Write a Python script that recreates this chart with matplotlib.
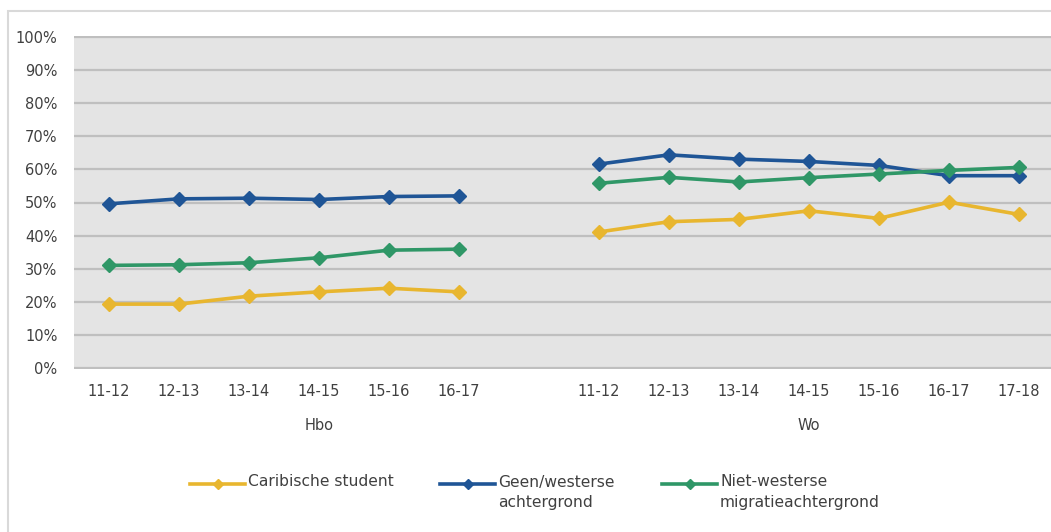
import matplotlib
matplotlib.use("Agg")
import matplotlib.pyplot as plt
from matplotlib.lines import Line2D
from matplotlib.patches import Rectangle
from matplotlib.ticker import PercentFormatter

# data
groups = ["Hbo", "Wo"]
periods_hbo = ["11-12", "12-13", "13-14", "14-15", "15-16", "16-17"]
periods_wo = ["11-12", "12-13", "13-14", "14-15", "15-16", "16-17", "17-18"]

series_names = ["Caribische student", "Geen/westerse\nachtergrond",
                "Niet-westerse\nmigratieachtergrond"]
colors = ["#E8B62F", "#1F5596", "#2F9767"]

caribisch_hbo = [19.3, 19.3, 21.7, 23.0, 24.1, 23.0]
caribisch_wo = [41.1, 44.2, 44.9, 47.5, 45.2, 50.1, 46.4]
geen_hbo = [49.6, 51.1, 51.3, 50.9, 51.8, 52.0]
geen_wo = [61.6, 64.4, 63.1, 62.4, 61.2, 58.1, 58.1]
nietw_hbo = [31.0, 31.2, 31.8, 33.3, 35.6, 35.9]
nietw_wo = [55.8, 57.6, 56.2, 57.5, 58.6, 59.7, 60.6]

W, H = 1051, 532
fig = plt.figure(figsize=(W / 100, H / 100), dpi=100)
plt.rcParams["font.family"] = ["DejaVu Sans"]
txt = "#404040"

# outer chart border (cropped on the right and bottom)
fig.patches.append(Rectangle((7.5 / W, -0.1), 1.2, (H - 10.5) / H + 0.1,
                             transform=fig.transFigure, fill=False,
                             edgecolor="#D9D9D9", linewidth=1.5))

# leave a pixel of room so the 0% and 100% gridlines are not clipped
ax = fig.add_axes([74 / W, (H - 369) / H, 980 / W, 333 / H])
ax.set_facecolor("#E4E4E4")

# category slots: hbo, one empty slot, wo
n_hbo = len(periods_hbo)
x_hbo = list(range(n_hbo))
x_wo = [n_hbo + 1 + i for i in range(len(periods_wo))]
n_slots = n_hbo + 1 + len(periods_wo)

for name, col, yh, yw in zip(series_names, colors,
                              [caribisch_hbo, geen_hbo, nietw_hbo],
                              [caribisch_wo, geen_wo, nietw_wo]):
    for xs, ys in ((x_hbo, yh), (x_wo, yw)):
        ax.plot(xs, ys, color=col, linewidth=2.6, marker="D",
                markersize=7, zorder=3)

ax.set_xlim(-0.5, n_slots - 0.5)
ax.set_ylim(-0.3, 100.3)
ax.set_yticks(range(0, 101, 10))
ax.yaxis.set_major_formatter(PercentFormatter(decimals=0))
ax.grid(axis="y", color="#BFBFBF", linewidth=1.6)
ax.set_axisbelow(True)
ax.set_xticks(x_hbo + x_wo)
ax.set_xticklabels(periods_hbo + periods_wo)
ax.tick_params(axis="x", length=0, pad=11, labelsize=10.5, labelcolor=txt)
ax.tick_params(axis="y", length=0, pad=12, labelsize=10.5, labelcolor=txt)
for s in ax.spines.values():
    s.set_visible(False)

# group labels under the periods
for g, xs in zip(groups, [x_hbo + [n_hbo], x_wo]):
    xc = (xs[0] + xs[-1]) / 2
    ax.text(xc, -(425 - 369) / 333, g, transform=ax.get_xaxis_transform(),
            ha="center", va="center", fontsize=10.5, color=txt)

# legend drawn by hand so the handle sits on the first text line
leg_x = [190, 440, 662]
leg_y = H - 484
for name, col, lx in zip(series_names, colors, leg_x):
    fig.lines.append(Line2D([lx / W, (lx + 55) / W], [leg_y / H, leg_y / H],
                            transform=fig.transFigure, color=col,
                            linewidth=2.6))
    fig.lines.append(Line2D([(lx + 27.5) / W], [leg_y / H],
                            transform=fig.transFigure, color=col,
                            marker="D", markersize=5))
    fig.text((lx + 58) / W, (leg_y + 9.5) / H, name, ha="left", va="top",
             fontsize=11.2, color=txt, linespacing=1.5)

fig.savefig("out.png", dpi=100)
